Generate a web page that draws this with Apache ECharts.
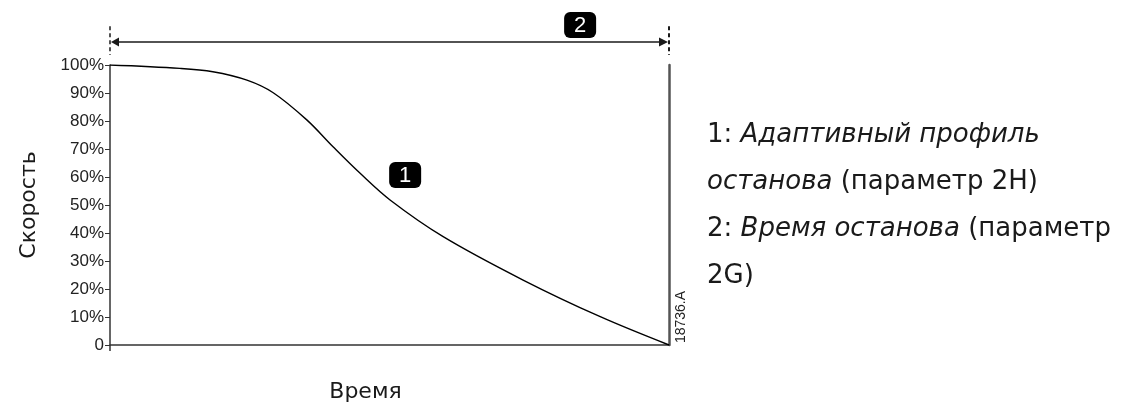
<!DOCTYPE html>
<html>
<head>
<meta charset="utf-8">
<script src="https://cdn.jsdelivr.net/npm/echarts@6/dist/echarts.min.js"></script>
<style>
html, body { margin: 0; padding: 0; background: #fff; }
#chart { width: 1142px; height: 412px; }
</style>
</head>
<body>
<div id="chart"></div>
<script type="text/javascript">
// время (доля от времени останова, %) и скорость (%)
var times  = [0, 12.5, 18.4, 24.5, 29.2, 35.2, 39.9, 44.7, 50.1, 59.6, 73.9, 87.7, 100];
var speeds = [100, 98.8, 97.6, 94.6, 90.1, 80.4, 70.8, 61.4, 51.8, 38.7, 23.2, 10.1, 0];
var yTicks = [0, 10, 20, 30, 40, 50, 60, 70, 80, 90, 100];

var yName = 'Скорость';
var xName = 'Время';
var stamp = '18736.A';
var notes = [
    '{n|1: }{i|Адаптивный профиль}',
    '{i|останова}{n| (параметр 2H)}',
    '{n|2: }{i|Время останова}{n| (параметр}',
    '{n|2G)}'
];

var chart = echarts.init(document.getElementById('chart'));
var ink = '#1a1a1a';
var titleFont = '"DejaVu Sans", sans-serif';

var option = {
    animation: false,
    grid: { left: 110, right: 473, top: 65, bottom: 67 },
    xAxis: {
        type: 'value', min: 0, max: 100,
        name: xName, nameLocation: 'middle', nameGap: 36,
        nameTextStyle: { fontFamily: titleFont, fontSize: 22, color: ink, padding: [0, 48, 0, 0] },
        axisLine: { lineStyle: { color: '#333', width: 1.5 } },
        axisTick: { show: true, length: 6, customValues: [0], lineStyle: { color: '#333', width: 1.5 } },
        axisLabel: { show: false },
        splitLine: { show: false }
    },
    yAxis: [{
        type: 'value', min: 0, max: 100, interval: 10,
        name: yName, nameLocation: 'middle', nameGap: 70, nameRotate: 90,
        nameTextStyle: { fontFamily: titleFont, fontSize: 22, color: ink },
        axisLine: { show: true, lineStyle: { color: '#333', width: 1.5 } },
        axisTick: { show: true, length: 5, lineStyle: { color: '#333' } },
        axisLabel: {
            margin: 6, fontFamily: '"Liberation Sans", Arial, sans-serif', fontSize: 17, color: '#222',
            formatter: function (v) { return yTicks.indexOf(v) >= 0 ? (v === 0 ? '0' : v + '%') : ''; }
        },
        splitLine: { show: false }
    }, {
        type: 'value', min: 0, max: 100, position: 'right',
        axisLine: { show: true, lineStyle: { color: '#555', width: 2.5 } },
        axisTick: { show: false }, axisLabel: { show: false }, splitLine: { show: false }
    }],
    series: [{
        type: 'line',
        data: times.map(function (t, i) { return [t, speeds[i]]; }),
        smooth: 0.35,
        showSymbol: false,
        lineStyle: { color: '#000', width: 1.4 }
    }]
};
chart.setOption(option);

// аннотации поверх сетки
function px(t, v) { return chart.convertToPixel({ xAxisIndex: 0, yAxisIndex: 0 }, [t, v]); }
var left = px(0, 0), right = px(100, 0);
var arrowY = px(0, 108.2)[1];
var dashTop = px(0, 113.8)[1], dashBot = px(0, 103.6)[1];
var b1 = px(52.8, 60.7), b2 = px(84.1, 114.3);

function badge(c, label) {
    return {
        type: 'group', x: c[0], y: c[1],
        children: [
            { type: 'rect', shape: { x: -16, y: -13, width: 32, height: 26, r: 6 }, style: { fill: '#000' } },
            { type: 'text', style: { text: label, x: 0, y: 1, align: 'center', verticalAlign: 'middle',
                fill: '#fff', font: '22px "Liberation Sans", Arial, sans-serif' } }
        ]
    };
}

chart.setOption({
    graphic: [
        { type: 'line', shape: { x1: left[0] + 6, y1: arrowY, x2: right[0] - 6, y2: arrowY }, style: { stroke: ink, lineWidth: 1.5 } },
        { type: 'polygon', shape: { points: [[left[0] + 1, arrowY], [left[0] + 9, arrowY - 4.5], [left[0] + 9, arrowY + 4.5]] }, style: { fill: ink } },
        { type: 'polygon', shape: { points: [[right[0] - 1, arrowY], [right[0] - 10, arrowY - 4.5], [right[0] - 10, arrowY + 4.5]] }, style: { fill: ink } },
        { type: 'line', shape: { x1: left[0], y1: dashTop, x2: left[0], y2: dashBot }, style: { stroke: ink, lineWidth: 1.5, lineDash: [4, 3] } },
        { type: 'line', shape: { x1: right[0], y1: dashTop, x2: right[0], y2: dashBot }, style: { stroke: ink, lineWidth: 2, lineDash: [4, 3] } },
        badge(b1, '1'),
        badge(b2, '2'),
        {
            type: 'text', x: right[0] + 12, y: right[1] - 28, rotation: Math.PI / 2,
            style: { text: stamp, align: 'center', verticalAlign: 'middle', fill: '#222',
                font: '14px "Liberation Sans", Arial, sans-serif' }
        },
        {
            type: 'text', x: 707, y: 112,
            style: {
                text: notes.join('\n'),
                rich: {
                    n: { fontFamily: titleFont, fontSize: 26, lineHeight: 47, fill: ink },
                    i: { fontFamily: titleFont, fontSize: 26, lineHeight: 47, fontStyle: 'italic', fill: ink }
                }
            }
        }
    ]
});
</script>
</body>
</html>
